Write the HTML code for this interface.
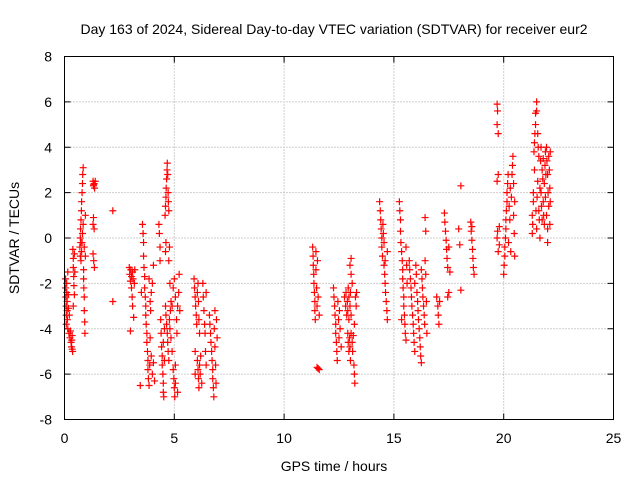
<!DOCTYPE html>
<html><head><meta charset="utf-8"><style>
body{margin:0;background:#fff}
svg{display:block;font-family:"Liberation Sans",sans-serif}
</style></head><body>
<svg id="chart" width="640" height="480" viewBox="0 0 640 480">
<rect width="640" height="480" fill="#fff"/>
<text x="334" y="34" font-size="14" text-anchor="middle">Day 163 of 2024, Sidereal Day-to-day VTEC variation (SDTVAR) for receiver eur2</text>
<g id="grid"></g>
<g id="ticks"></g>
<g id="points"></g>
<rect x="64.5" y="56.5" width="549" height="363" fill="none" stroke="#000"/>
<text x="334" y="471" font-size="14" text-anchor="middle">GPS time / hours</text>
<text x="0" y="0" font-size="14" text-anchor="middle" transform="translate(19,238) rotate(-90)">SDTVAR / TECUs</text>
</svg>
<script>
const xTicks=[0,5,10,15,20,25];
const yTicks=[-8,-6,-4,-2,0,2,4,6,8];
const times=[];
const values=[];
const pairs=[
[0.05,-1.8],[0.05,-2.2],[0.06,-2.6],[0.07,-3.0],[0.08,-3.4],[0.08,-3.8],[0.1,-2.0],[0.1,-2.4],[0.12,-2.8],[0.12,-3.2],[0.13,-3.6],[0.15,-4.0],[0.15,-1.5],[0.17,-2.5],[0.18,-3.1],[0.2,-4.2],[0.22,-3.4],[0.25,-4.4],[0.27,-4.1],[0.3,-4.6],[0.32,-4.8],[0.33,-4.5],[0.35,-4.9],[0.37,-5.0],[0.35,-4.3],
[0.38,-0.5],[0.4,-0.9],[0.4,-1.3],[0.42,-1.7],[0.43,-2.1],[0.45,-2.5],[0.4,-3.0],[0.45,-0.7],[0.47,-1.5],
[0.7,-0.4],[0.72,0.0],[0.73,0.4],[0.75,0.8],[0.75,-1.0],[0.77,1.2],[0.78,1.6],[0.78,-0.6],[0.8,2.0],[0.8,-0.2],[0.82,2.4],[0.82,0.2],[0.83,2.8],[0.85,3.1],[0.85,0.6],[0.87,-1.4],[0.87,-1.8],[0.88,-2.2],[0.9,-2.6],[0.9,-0.4],[0.9,-3.2],[0.92,-3.7],[0.93,-4.2],[0.95,-0.8],[0.95,1.0],[0.72,-0.8],[0.74,-0.2],
[1.3,2.5],[1.32,2.3],[1.35,2.4],[1.37,2.2],[1.4,2.5],[1.33,2.35],[1.3,0.6],[1.32,0.9],[1.35,0.4],[1.3,-0.7],[1.33,-1.0],[1.36,-1.3],
[2.2,1.2],[2.2,-2.8],
[2.95,-1.3],[2.97,-1.6],[3.0,-1.9],[3.02,-1.4],[3.05,-2.2],[3.05,-1.7],[3.08,-2.6],[3.1,-1.5],[3.1,-3.0],[3.12,-1.8],[3.15,-3.5],[3.18,-2.0],[3.0,-4.1],[3.2,-1.4],
[3.55,0.6],[3.58,0.2],[3.6,-0.2],[3.6,-0.8],[3.62,-1.3],[3.65,-1.7],[3.65,-2.2],[3.68,-2.6],[3.7,-3.0],[3.7,-3.4],[3.72,-3.8],[3.75,-4.2],[3.75,-4.6],[3.78,-5.0],[3.8,-5.4],[3.8,-5.8],[3.82,-6.2],[3.85,-6.5],[3.88,-5.6],[3.9,-4.4],[3.92,-3.2],[3.95,-2.4],[3.95,-5.2],[4.0,-6.0],[4.05,-5.5],[4.1,-6.3],[4.0,-2.0],[4.05,-1.2],[3.5,-2.4],[3.45,-6.5],[3.85,-1.8],[3.9,-2.8],
[4.3,0.6],[4.32,0.2],[4.35,-0.4],[4.35,-1.0],[4.38,-3.6],[4.4,-4.2],[4.42,-4.8],[4.45,-5.2],[4.45,-5.6],[4.48,-6.0],[4.5,-6.4],[4.5,-6.8],[4.52,-7.0],[4.5,-4.6],[4.55,-5.4],[4.55,-4.0],
[4.58,1.0],[4.6,1.4],[4.62,1.8],[4.63,2.2],[4.65,2.6],[4.67,3.0],[4.68,3.3],[4.7,2.8],[4.72,2.0],[4.73,1.6],[4.75,1.2],[4.6,-0.6],[4.62,-0.2],[4.75,-1.0],[4.78,-0.4],[4.8,-2.0],
[4.6,-3.0],[4.62,-3.4],[4.65,-3.8],[4.68,-4.2],[4.7,-4.6],[4.72,-5.0],[4.75,-5.4],[4.78,-3.6],[4.8,-4.0],[4.82,-3.2],[4.85,-2.8],[4.85,-4.4],[4.9,-3.0],[4.9,-5.0],
[4.95,-5.8],[4.98,-6.2],[5.0,-6.6],[5.02,-7.0],[5.05,-6.4],[5.05,-5.6],[4.95,-2.2],[5.0,-1.8],[5.05,-2.6],[5.1,-3.6],[5.12,-4.2],[5.15,-3.0],[5.2,-2.4],[5.22,-1.6],[5.25,-3.2],[5.15,-6.8],
[5.9,-1.8],[5.92,-2.2],[5.95,-2.6],[5.97,-3.0],[6.0,-3.4],[6.02,-3.8],[6.05,-2.4],[6.08,-2.0],[6.1,-2.8],[6.12,-3.6],[6.15,-4.2],[6.05,-5.4],[6.08,-5.8],[6.1,-6.2],[6.12,-6.6],[6.15,-5.6],[6.18,-6.0],[6.2,-5.2],[6.25,-6.4],[6.3,-2.0],[6.32,-2.6],[6.35,-3.2],[6.38,-3.8],[6.4,-4.2],[6.42,-5.0],[6.45,-5.6],[6.45,-2.4],[5.95,-5.0],[5.95,-6.0],
[6.6,-3.4],[6.62,-3.8],[6.65,-4.2],[6.67,-4.6],[6.7,-5.0],[6.72,-5.4],[6.75,-5.8],[6.75,-6.2],[6.78,-6.6],[6.8,-7.0],[6.82,-4.0],[6.85,-3.2],[6.85,-4.8],[6.88,-5.6],[6.9,-6.4],[6.92,-3.6],[6.95,-4.4],
[11.3,-0.4],[11.32,-0.8],[11.33,-1.2],[11.35,-1.6],[11.36,-2.0],[11.38,-2.4],[11.4,-2.8],[11.4,-3.2],[11.42,-3.6],[11.45,-0.6],[11.45,-1.4],[11.48,-2.2],[11.5,-3.0],[11.52,-1.0],[11.55,-2.6],[11.6,-3.4],[11.5,-5.7],[11.55,-5.75],[11.6,-5.8],
[12.25,-2.2],[12.27,-2.6],[12.3,-3.0],[12.32,-3.4],[12.35,-3.8],[12.35,-4.2],[12.38,-4.6],[12.4,-5.0],[12.42,-5.4],[12.45,-2.8],[12.48,-3.6],[12.5,-4.4],[12.52,-3.2],[12.55,-4.0],[12.6,-4.8],
[12.75,-2.6],[12.8,-3.0],[12.82,-2.4],[12.85,-3.4],[12.88,-2.8],[12.9,-3.2],[12.92,-2.2],[12.95,-3.6],[12.95,-2.6],[13.0,-3.0],[13.02,-2.4],[13.05,-3.4],[13.0,-1.2],[13.05,-0.9],[13.05,-1.6],[13.1,-2.0],
[12.9,-4.2],[12.92,-4.6],[12.95,-5.0],[12.98,-4.4],[13.0,-4.8],[13.02,-5.4],[13.05,-4.2],[13.1,-4.6],[13.12,-5.0],[13.15,-4.3],[13.18,-5.6],[13.2,-6.0],[13.22,-6.4],[13.2,-3.8],[13.25,-2.6],[13.28,-3.0],[13.3,-2.4],
[14.35,1.6],[14.38,1.2],[14.4,0.8],[14.42,0.4],[14.45,0.0],[14.45,-0.4],[14.48,-0.8],[14.5,0.6],[14.52,0.2],[14.55,-0.2],[14.55,-1.2],[14.58,-1.6],[14.6,-2.0],[14.62,-2.4],[14.65,-2.8],[14.68,-3.2],[14.7,-3.6],[14.7,-0.6],[14.6,-1.0],
[15.25,1.6],[15.27,1.2],[15.3,0.8],[15.3,0.3],[15.32,-0.2],[15.35,-0.6],[15.38,-1.0],[15.4,-1.4],[15.4,-1.8],[15.42,-2.2],[15.45,-2.6],[15.45,-3.0],[15.48,-3.4],[15.5,-3.8],[15.52,-4.2],[15.55,-4.5],[15.55,-0.4],[15.58,-1.2],[15.6,-2.0],[15.35,-3.6],
[15.7,-1.0],[15.72,-1.4],[15.75,-1.8],[15.78,-2.2],[15.8,-2.6],[15.82,-3.0],[15.85,-3.4],[15.88,-3.8],[15.9,-4.2],[15.92,-4.6],[15.95,-5.0],[15.95,-2.0],[16.0,-1.2],[16.02,-1.6],[16.05,-2.4],[16.08,-2.8],[16.1,-3.2],[16.12,-3.6],[16.15,-4.0],[16.18,-4.4],[16.2,-4.8],[16.22,-5.2],[16.25,-5.5],[16.25,-1.4],[16.28,-1.8],[16.3,-2.2],[16.32,-2.6],[16.35,-3.0],[16.38,-3.4],[16.4,-3.8],[16.42,-1.0],[16.45,-1.6],[16.48,-2.8],[16.5,-4.2],[16.42,0.9],[16.45,0.3],
[16.95,-2.6],[17.0,-3.0],[17.02,-3.4],[17.05,-3.8],[17.08,-2.8],[17.3,1.1],[17.32,0.7],[17.35,0.3],[17.38,-0.1],[17.4,-0.5],[17.42,-0.9],[17.45,-1.3],[17.5,-0.4],[17.55,-1.5],[17.45,-2.6],[17.5,-2.4],
[18.05,2.3],[18.05,-2.3],[18.0,-0.3],[17.95,0.4],
[18.5,0.7],[18.52,0.3],[18.55,-0.1],[18.58,-0.5],[18.6,-0.9],[18.62,-1.3],[18.65,-1.6],[18.55,0.5],
[19.7,5.9],[19.72,5.6],[19.7,5.0],[19.75,4.6],[19.7,2.5],[19.75,2.8],[19.72,0.3],[19.7,0.0],[19.75,-0.6],[19.8,-0.3],[19.8,0.5],
[20.0,-1.6],[20.02,-1.2],[20.05,-0.8],[20.05,-0.4],[20.08,0.0],[20.1,0.4],[20.1,0.8],[20.12,1.2],[20.15,1.6],[20.15,2.0],[20.18,2.4],[20.2,2.8],[20.22,-0.2],[20.25,1.4],[20.28,0.8],[20.3,2.2],[20.32,-0.6],[20.35,1.8],[20.38,2.8],[20.4,3.2],[20.42,3.6],[20.45,1.0],[20.48,0.2],[20.5,-0.8],[20.45,2.4],[20.5,1.6],
[21.3,0.2],[21.32,0.6],[21.3,1.0],[21.35,1.6],[21.35,2.0],[21.38,3.8],[21.4,4.2],[21.4,3.0],[21.42,4.6],[21.45,5.0],[21.45,5.5],[21.47,1.2],[21.5,6.0],[21.5,5.6],[21.5,0.4],[21.52,1.8],[21.55,4.6],[21.55,2.5],[21.57,4.0],[21.6,3.6],[21.6,1.2],[21.62,0.8],[21.65,0.0],[21.65,2.2],[21.68,3.4],[21.7,4.0],[21.7,2.0],[21.72,1.4],[21.75,3.0],[21.75,0.8],[21.78,2.6],[21.8,1.6],[21.8,3.5],[21.82,1.0],[21.85,2.4],[21.85,0.6],[21.88,3.2],[21.9,3.8],[21.9,1.8],[21.92,2.8],[21.95,4.0],[21.95,1.0],[21.97,3.4],[22.0,2.8],[22.0,0.4],[22.02,2.0],[22.05,3.6],[22.05,1.4],[22.08,3.0],[22.1,0.6],[22.1,2.2],[22.0,-0.2],[22.12,3.8],[22.12,1.6]
];
pairs.forEach(p=>{times.push(p[0]);values.push(p[1]);});

const NS='http://www.w3.org/2000/svg';
const L=64.5,R=613.5,T=56.5,B=419.5;
const xs=v=>L+(v-0)/25*(R-L);
const ys=v=>B-(v+8)/16*(B-T);
function mk(tag,attrs,parent){const e=document.createElementNS(NS,tag);for(const k in attrs)e.setAttribute(k,attrs[k]);parent.appendChild(e);return e;}
const grid=document.getElementById('grid'),ticks=document.getElementById('ticks'),pts=document.getElementById('points');
xTicks.forEach(t=>{
  const x=xs(t);
  if(t>0&&t<25){const g=mk('line',{x1:x,y1:T,x2:x,y2:B,stroke:'#a0a0a0','stroke-dasharray':'1,2'},grid);
  
  }
  const a=mk('line',{x1:x,y1:B,x2:x,y2:B-6,stroke:'#000'},ticks);
  
  
  const b=mk('line',{x1:x,y1:T,x2:x,y2:T+6,stroke:'#000'},ticks);
  
  
  const tx=mk('text',{x:x,y:443,'font-size':14,'text-anchor':'middle'},ticks);
  tx.textContent=t;
  
  
});
yTicks.forEach(t=>{
  const y=ys(t);
  if(t>-8&&t<8){const g=mk('line',{x1:L,y1:y,x2:R,y2:y,stroke:'#a0a0a0','stroke-dasharray':'1,2'},grid);
  
  }
  const a=mk('line',{x1:L,y1:y,x2:L+6,y2:y,stroke:'#000'},ticks);
  
  
  const b=mk('line',{x1:R,y1:y,x2:R-6,y2:y,stroke:'#000'},ticks);
  
  
  const tx=mk('text',{x:52,y:y+5,'font-size':14,'text-anchor':'end'},ticks);
  tx.textContent=t;
  
  
});
times.forEach((t,i)=>{
  const x=xs(t),y=ys(values[i]);
  const p=mk('path',{d:`M${x-3.5},${y}h7M${x},${y-3.5}v7`,stroke:'#ff0000','stroke-width':1.2,fill:'none'},pts);
  
  
});
</script>
</body></html>
